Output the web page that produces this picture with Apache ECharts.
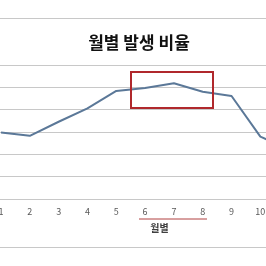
<!DOCTYPE html>
<html>
<head>
<meta charset="utf-8">
<script src="https://cdn.jsdelivr.net/npm/echarts@6/dist/echarts.min.js"></script>
<style>html,body{margin:0;padding:0;background:#fff}#c{width:266px;height:266px}</style>
</head>
<body>
<div id="c"></div>
<script>
var months = ['1','2','3','4','5','6','7','8','9','10','11','12'];
var ratio = [5.96, 5.66, 6.92, 8.12, 9.68, 9.94, 10.36, 9.6, 9.22, 5.58, 4.48, 5.5];
var titleText = '월별 발생 비율';
var axisTitle = '월별';

var chart = echarts.init(document.getElementById('c'), null, {renderer: 'canvas'});
var font = '"Noto Sans CJK KR", "Noto Sans", sans-serif';
chart.setOption({
  animation: false,
  backgroundColor: '#fff',
  title: {
    text: titleText, left: 134, top: 29, textAlign: 'center',
    textStyle: {fontFamily: font, fontSize: 17, fontWeight: 'bold', color: '#111'}
  },
  grid: {left: -13.4, right: -66.4, top: 65, bottom: 67, containLabel: false, outerBoundsMode: 'none'},
  xAxis: {
    type: 'category', data: months, boundaryGap: true,
    name: axisTitle, nameLocation: 'middle', nameGap: 24,
    nameTextStyle: {fontFamily: font, fontSize: 10, fontWeight: 'bold', color: '#404040'},
    axisLine: {lineStyle: {color: '#c8c8c8', width: 1}},
    axisTick: {show: false},
    axisLabel: {color: '#595959', fontSize: 9, fontFamily: font, margin: 8, interval: 0}
  },
  yAxis: {
    type: 'value', min: 0, max: 12, interval: 2,
    axisLabel: {show: false}, axisLine: {show: false}, axisTick: {show: false},
    splitLine: {lineStyle: {color: '#c8c8c8', width: 1}}
  },
  series: [{
    type: 'line', data: ratio, showSymbol: false, symbol: 'none',
    lineStyle: {color: '#5b7898', width: 2}
  }],
  graphic: [
    {type: 'line', shape: {x1: 0, y1: 18.5, x2: 266, y2: 18.5}, style: {stroke: '#c8c8c8', lineWidth: 1}},
    {type: 'line', shape: {x1: 0, y1: 247.5, x2: 266, y2: 247.5}, style: {stroke: '#c8c8c8', lineWidth: 1}},
    {type: 'line', shape: {x1: 139, y1: 219, x2: 207, y2: 219}, style: {stroke: '#b04040', lineWidth: 1}},
    {type: 'rect', shape: {x: 131, y: 72, width: 82, height: 36}, style: {fill: 'none', stroke: '#b0282c', lineWidth: 2}, z: 100}
  ]
});
</script>
</body>
</html>
